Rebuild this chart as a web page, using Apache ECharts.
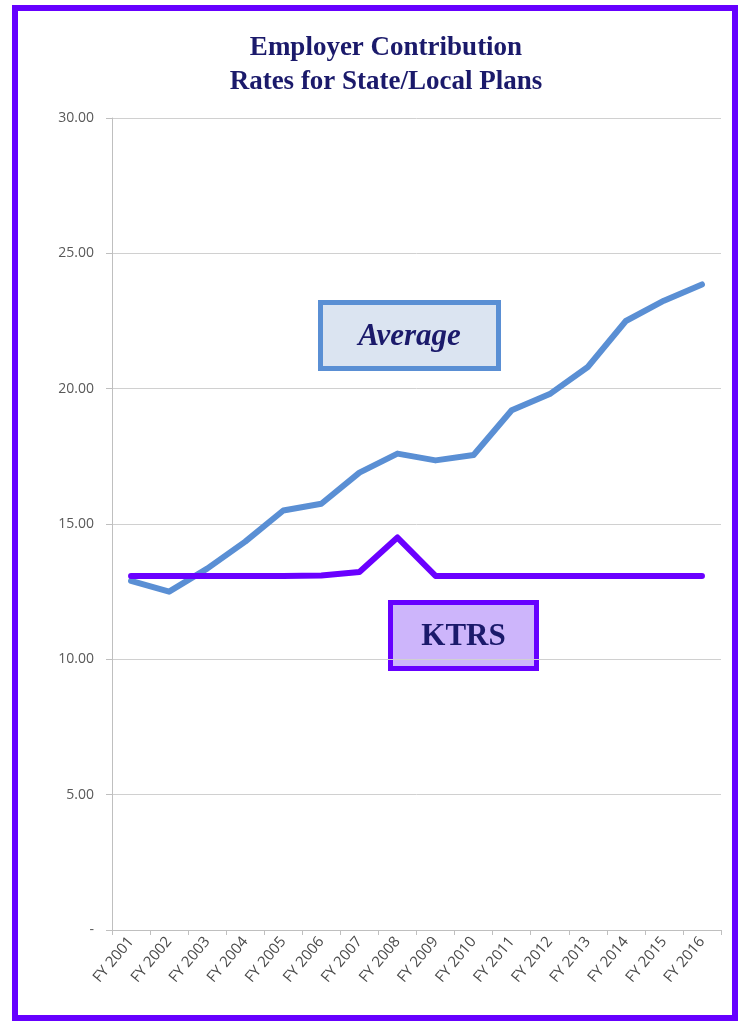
<!DOCTYPE html>
<html>
<head>
<meta charset="utf-8">
<script src="https://cdn.jsdelivr.net/npm/echarts@6/dist/echarts.min.js"></script>
<style>
  html, body { margin: 0; padding: 0; background: #fff; }
  #chart { width: 745px; height: 1022px; }
</style>
</head>
<body>
<div id="chart"></div>
<script>
// data
var years = ['FY 2001', 'FY 2002', 'FY 2003', 'FY 2004', 'FY 2005', 'FY 2006', 'FY 2007', 'FY 2008',
  'FY 2009', 'FY 2010', 'FY 2011', 'FY 2012', 'FY 2013', 'FY 2014', 'FY 2015', 'FY 2016']
var average = [12.9, 12.5, 13.35, 14.35, 15.5, 15.75, 16.9, 17.6, 17.35, 17.55, 19.2, 19.8, 20.8, 22.5, 23.25, 23.85]
var ktrs = [13.08, 13.08, 13.08, 13.08, 13.08, 13.1, 13.23, 14.5, 13.08, 13.08, 13.08, 13.08, 13.08, 13.08, 13.08, 13.08]

var titleLines = ['Employer Contribution', 'Rates for State/Local Plans']

var chart = echarts.init(document.getElementById('chart'))

var option = {
  backgroundColor: '#fff',
  animation: false,
  title: {
    text: titleLines.join('\n'),
    left: 381,
    textAlign: 'center',
    top: 26,
    textStyle: {
      fontFamily: 'Liberation Serif',
      fontWeight: 'bold',
      fontSize: 27,
      lineHeight: 34,
      color: '#1b1a6b'
    }
  },
  grid: { left: 112, right: 24, top: 118, bottom: 92 },
  xAxis: {
    type: 'category',
    data: years,
    boundaryGap: true,
    axisLine: { lineStyle: { color: '#bfbfbf', width: 1 } },
    axisTick: { show: true, length: 5, lineStyle: { color: '#bfbfbf' } },
    axisLabel: {
      rotate: 50,
      interval: 0,
      margin: 9,
      fontFamily: 'Open Sans',
      fontSize: 15,
      color: '#4a4a4a'
    },
    splitLine: { show: false }
  },
  yAxis: {
    type: 'value',
    min: 0,
    max: 30,
    interval: 5,
    axisLine: { show: true, lineStyle: { color: '#bfbfbf' } },
    axisTick: { show: true, length: 6, lineStyle: { color: '#bfbfbf' } },
    axisLabel: {
      margin: 18,
      fontFamily: 'Open Sans',
      fontSize: 14,
      color: '#595959',
      formatter: function (v) { return v === 0 ? '-' : v.toFixed(2) }
    },
    splitLine: { lineStyle: { color: '#d0d0d0', width: 1 } }
  },
  series: [
    {
      name: 'Average',
      type: 'line',
      data: average,
      showSymbol: false,
      lineStyle: { color: '#5a8fd4', width: 6, cap: 'round', join: 'round' },
      z: 2
    },
    {
      name: 'KTRS',
      type: 'line',
      data: ktrs,
      showSymbol: false,
      lineStyle: { color: '#6a00ff', width: 6, cap: 'round', join: 'round' },
      z: 3
    }
  ],
  graphic: [
    {
      type: 'rect',
      left: 12, top: 5,
      shape: { width: 720, height: 1010 },
      style: { fill: 'none', stroke: '#6600ff', lineWidth: 6 },
      z: 10
    },
    {
      type: 'group',
      left: 318, top: 300,
      z: 20,
      children: [
        {
          type: 'rect',
          shape: { width: 178, height: 66 },
          style: { fill: '#dbe4f1', stroke: '#5a8fd4', lineWidth: 5 }
        },
        {
          type: 'text',
          style: {
            text: 'Average',
            x: 89, y: 34,
            align: 'center', verticalAlign: 'middle',
            font: 'italic bold 31px "Liberation Serif"',
            fill: '#1b1a6b'
          }
        }
      ]
    },
    {
      type: 'group',
      left: 388, top: 600,
      z: 20,
      children: [
        {
          type: 'rect',
          shape: { width: 146, height: 66 },
          style: { fill: '#cdb5fb', stroke: '#6600ff', lineWidth: 5 }
        },
        {
          type: 'text',
          style: {
            text: 'KTRS',
            x: 73, y: 34,
            align: 'center', verticalAlign: 'middle',
            font: 'bold 31px "Liberation Serif"',
            fill: '#1b1a6b'
          }
        }
      ]
    }
  ]
}

chart.setOption(option)
</script>
</body>
</html>
